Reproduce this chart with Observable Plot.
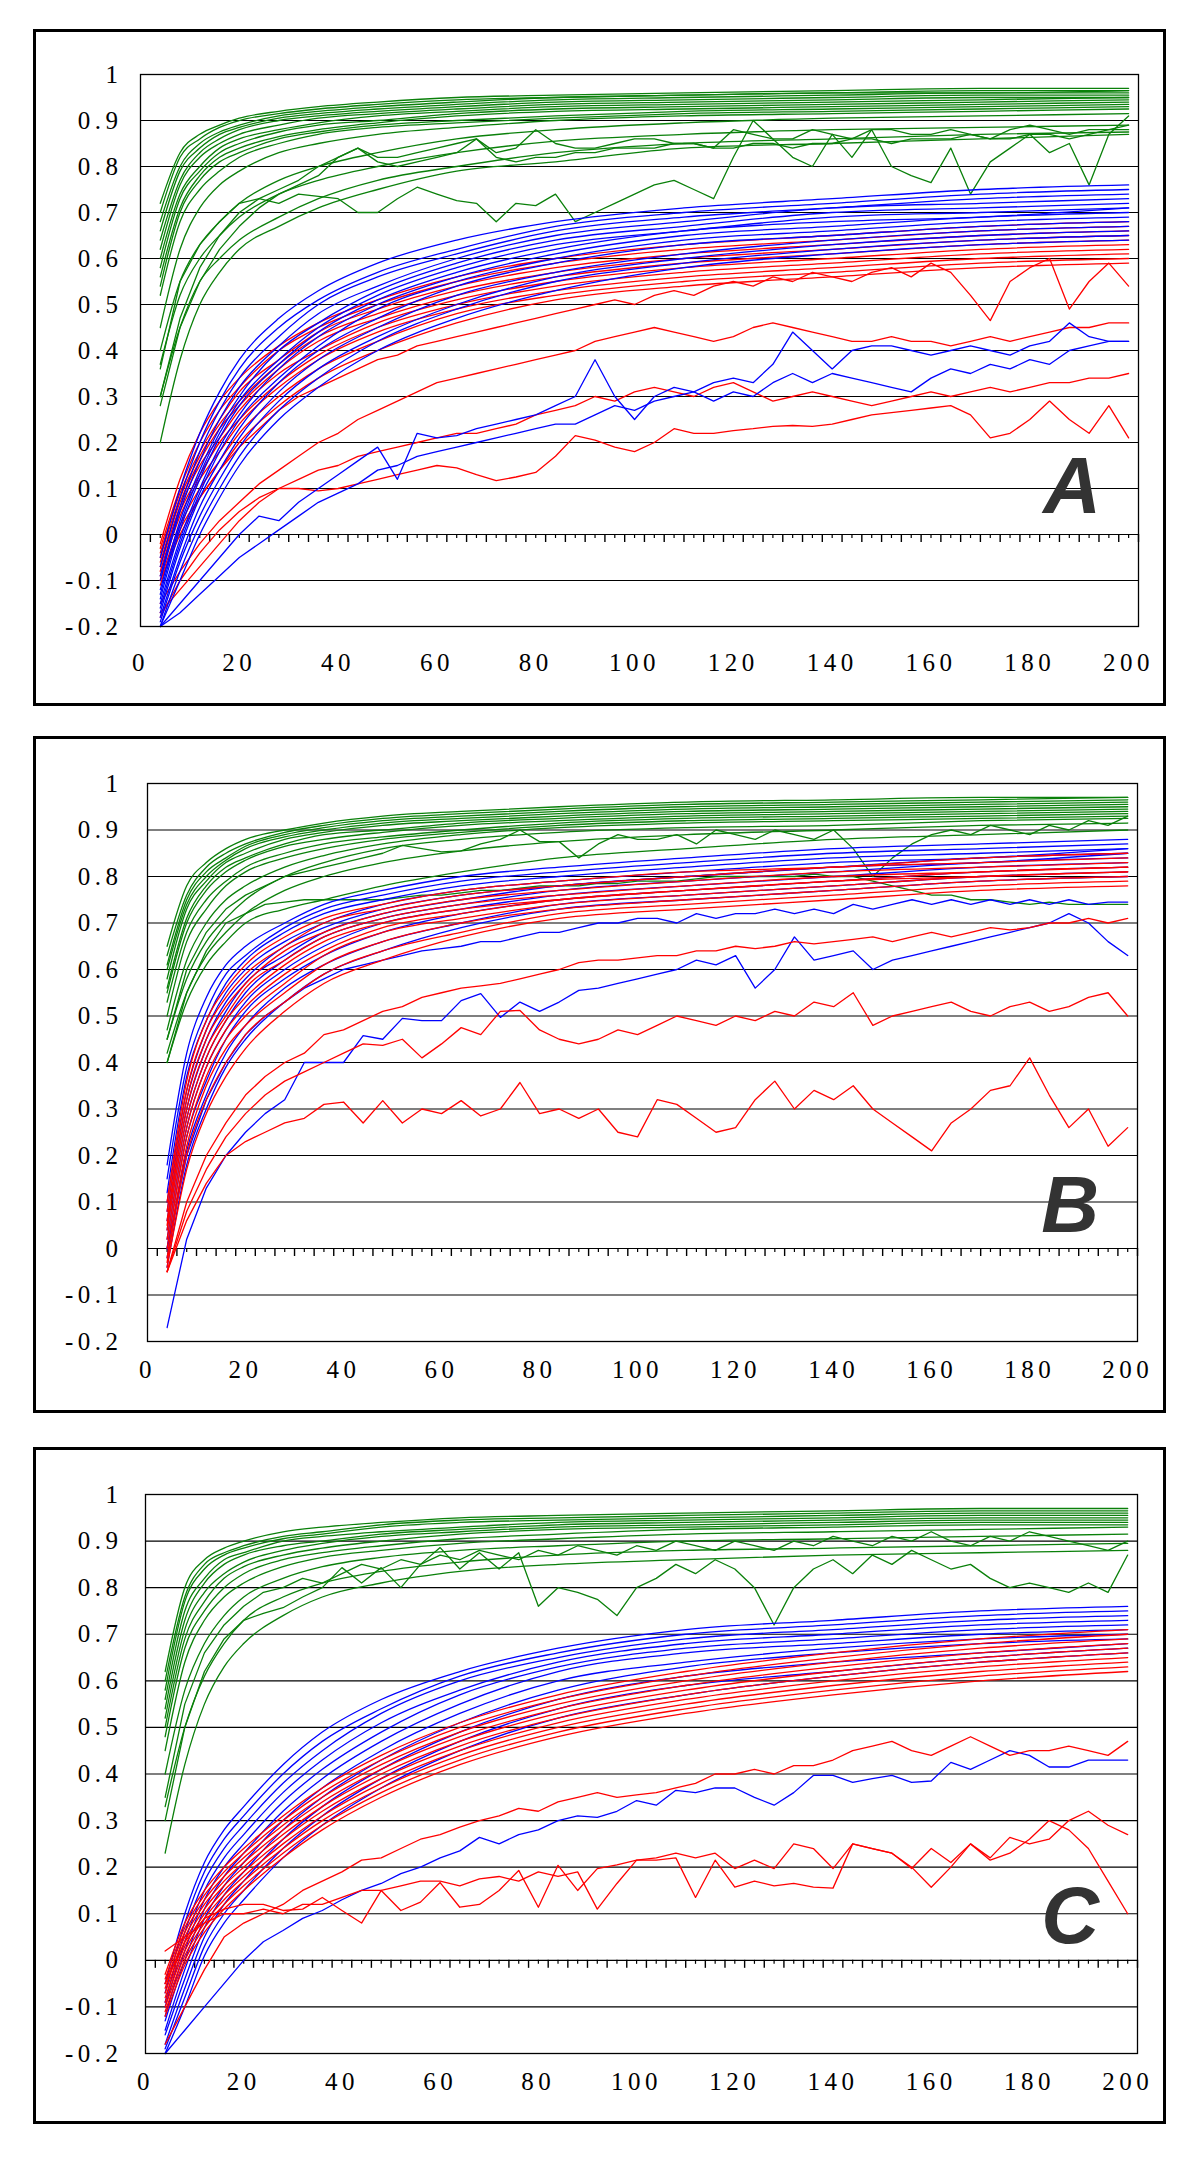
<!DOCTYPE html>
<html><head><meta charset="utf-8">
<script src="https://cdn.jsdelivr.net/npm/d3@7"></script>
<script src="https://cdn.jsdelivr.net/npm/@observablehq/plot@0.6"></script>
<style>
html,body{margin:0;padding:0;background:#fff;}
body{width:1200px;height:2175px;position:relative;}
.panel{position:absolute;left:33px;width:1133px;height:677px;border:3px solid #000;box-sizing:border-box;background:#fff;overflow:hidden;}
.panel svg{position:absolute;left:0;top:0;}
.panel svg text{letter-spacing:4.5px;}
</style></head><body>
<div id="pA" class="panel" style="top:29px"></div>
<div id="pB" class="panel" style="top:736px"></div>
<div id="pC" class="panel" style="top:1447px"></div>
<script>
// ---------- axes / ticks ----------
const yTicks = [-0.2,-0.1,0,0.1,0.2,0.3,0.4,0.5,0.6,0.7,0.8,0.9,1];
const xTicks = [0,20,40,60,80,100,120,140,160,180,200];
const axisMarksMajor = d3.range(2, 203, 4);
const axisMarksMinor = d3.range(4, 201, 4);
// x positions of the sampled points
const xBundle = [4,8,12,16,20,28,36,48,64,84,110,140,170,200];
const xFull = [4,8,12,16,20,24,28,32,36,40,44,48,52,56,60,64,68,72,76,80,84,88,92,96,100,104,108,112,116,120,124,128,132,136,140,144,148,152,156,160,164,168,172,176,180,184,188,192,196,200];

// ---------- PANEL A ----------
const aGreen = [
[.72,.83,.87,.89,.905,.92,.93,.94,.95,.955,.96,.965,.97,.97],
[.70,.82,.86,.885,.90,.915,.925,.935,.945,.95,.955,.96,.965,.965],
[.68,.80,.85,.875,.89,.91,.92,.93,.94,.95,.955,.96,.96,.965],
[.66,.79,.84,.87,.885,.905,.915,.925,.935,.945,.95,.955,.96,.96],
[.64,.77,.83,.86,.88,.90,.91,.92,.93,.94,.945,.95,.955,.955],
[.62,.76,.82,.85,.87,.89,.905,.915,.925,.935,.94,.945,.95,.95],
[.60,.74,.80,.84,.86,.88,.895,.91,.92,.93,.935,.94,.945,.95],
[.58,.73,.79,.83,.85,.875,.89,.90,.915,.925,.93,.935,.94,.945],
[.56,.71,.78,.82,.84,.865,.88,.895,.91,.92,.925,.93,.935,.94],
[.54,.70,.77,.81,.83,.86,.875,.89,.90,.91,.92,.925,.93,.935],
[.52,.68,.75,.79,.82,.85,.87,.885,.895,.905,.915,.92,.925,.93],
[.45,.62,.71,.76,.79,.83,.85,.87,.885,.90,.91,.915,.92,.925],
[.40,.55,.63,.68,.72,.77,.80,.83,.86,.88,.895,.905,.91,.915],
[.37,.52,.60,.65,.69,.74,.77,.80,.83,.855,.87,.88,.885,.89],
[.30,.45,.55,.60,.64,.69,.73,.77,.80,.83,.85,.86,.87,.875],
[.20,.38,.50,.57,.62,.67,.71,.75,.79,.81,.84,.85,.86,.87]
];
const aGreenNoisy = [
[.36,.55,.63,.68,.72,.73,.72,.74,.735,.73,
 .70,.70,.73,.755,.74,.726,.72,.68,.72,.715,
 .74,.68,.70,.72,.74,.76,.77,.75,.73,.82,
 .90,.86,.82,.80,.87,.82,.88,.80,.78,.765,
 .84,.74,.81,.84,.87,.83,.85,.76,.87,.91],
[.30,.47,.58,.65,.70,.73,.75,.77,.80,.82,
 .84,.82,.82,.83,.84,.85,.86,.83,.84,.88,
 .85,.84,.84,.85,.86,.86,.85,.85,.84,.88,
 .87,.86,.86,.88,.87,.86,.88,.88,.87,.87,
 .88,.87,.86,.88,.89,.88,.87,.88,.88,.89],
[.28,.45,.55,.62,.67,.71,.74,.76,.78,.82,
 .84,.81,.80,.81,.82,.83,.86,.82,.81,.82,
 .82,.83,.83,.84,.84,.84,.85,.85,.84,.84,
 .85,.85,.84,.85,.85,.86,.86,.85,.86,.86,
 .86,.87,.86,.86,.87,.87,.86,.87,.88,.88]
];
const aBlue = [
[-.05,.10,.22,.31,.38,.47,.53,.59,.64,.68,.71,.73,.75,.76],
[-.07,.08,.20,.29,.36,.45,.51,.57,.62,.67,.70,.72,.74,.75],
[-.09,.06,.18,.27,.34,.43,.50,.56,.61,.66,.69,.71,.73,.74],
[-.10,.05,.16,.25,.32,.41,.48,.54,.60,.65,.68,.71,.72,.73],
[-.12,.03,.14,.23,.30,.40,.46,.53,.59,.64,.67,.70,.71,.72],
[-.13,.02,.13,.22,.29,.38,.45,.52,.58,.63,.66,.69,.70,.71],
[-.14,.01,.12,.21,.28,.37,.44,.51,.57,.62,.66,.68,.69,.71],
[-.15,-.01,.10,.19,.26,.36,.43,.50,.56,.61,.65,.67,.69,.70],
[-.16,-.02,.09,.18,.25,.34,.41,.49,.55,.60,.64,.66,.68,.69],
[-.17,-.03,.08,.16,.23,.33,.40,.47,.54,.59,.63,.65,.67,.68],
[-.18,-.05,.06,.14,.21,.31,.38,.45,.52,.57,.61,.64,.66,.67],
[-.19,-.06,.04,.12,.19,.29,.36,.43,.50,.56,.60,.63,.65,.66],
[-.20,-.08,.02,.10,.17,.27,.34,.42,.49,.55,.59,.62,.64,.65],
[-.20,-.10,.00,.08,.15,.25,.32,.40,.47,.53,.58,.61,.63,.64]
];
const aBlueNoisy = [
[-.20,-.15,-.10,-.05,.00,.04,.03,.07,.10,.13,
 .16,.19,.12,.22,.21,.215,.23,.24,.25,.26,
 .28,.30,.38,.30,.25,.30,.32,.31,.33,.34,
 .33,.37,.44,.40,.36,.40,.41,.41,.40,.39,
 .40,.41,.40,.39,.41,.42,.46,.43,.42,.42],
[-.20,-.17,-.13,-.09,-.05,-.02,.01,.04,.07,.09,
 .11,.14,.15,.17,.18,.19,.20,.21,.22,.23,
 .24,.24,.26,.28,.27,.29,.30,.31,.29,.31,
 .30,.33,.35,.33,.35,.34,.33,.32,.31,.34,
 .36,.35,.37,.36,.38,.37,.40,.41,.42,.42]
];
const aRed = [
[-.02,.12,.22,.29,.34,.41,.46,.51,.56,.60,.63,.65,.67,.68],
[-.03,.10,.20,.27,.32,.40,.45,.50,.55,.59,.62,.64,.66,.67],
[-.04,.09,.18,.25,.31,.38,.44,.49,.54,.58,.61,.63,.65,.66],
[-.05,.08,.17,.24,.29,.37,.43,.48,.53,.57,.60,.62,.64,.65],
[-.06,.07,.16,.23,.28,.36,.42,.47,.52,.56,.59,.61,.63,.64],
[-.07,.06,.15,.21,.27,.35,.40,.46,.51,.55,.58,.60,.62,.63],
[-.08,.05,.13,.20,.25,.33,.39,.45,.50,.54,.57,.59,.61,.62],
[-.09,.04,.12,.18,.24,.32,.38,.44,.49,.53,.56,.58,.60,.61],
[-.10,.02,.10,.16,.22,.30,.36,.42,.48,.52,.55,.57,.59,.60],
[-.11,.01,.08,.14,.20,.28,.34,.40,.46,.51,.54,.56,.58,.59]
];
const aRedNoisy = [
[-.10,.00,.08,.14,.19,.23,.27,.30,.32,.34,
 .36,.38,.39,.41,.42,.43,.44,.45,.46,.47,
 .48,.49,.50,.51,.50,.52,.53,.52,.54,.55,
 .54,.56,.55,.57,.56,.55,.57,.58,.56,.59,
 .57,.52,.465,.55,.58,.60,.49,.55,.59,.54],
[-.15,-.08,-.02,.03,.07,.11,.14,.17,.20,.22,
 .25,.27,.29,.31,.33,.34,.35,.36,.37,.38,
 .39,.40,.42,.43,.44,.45,.44,.43,.42,.43,
 .45,.46,.45,.44,.43,.42,.42,.43,.42,.42,
 .41,.42,.43,.42,.43,.44,.45,.45,.46,.46],
[-.18,-.10,-.04,.01,.05,.08,.10,.12,.14,.15,
 .17,.18,.19,.20,.21,.22,.22,.23,.24,.26,
 .27,.28,.30,.29,.31,.32,.31,.30,.32,.33,
 .31,.29,.30,.31,.30,.29,.28,.29,.30,.31,
 .30,.31,.32,.31,.32,.33,.33,.34,.34,.35],
[-.17,-.12,-.07,-.02,.03,.07,.10,.10,.095,.10,
 .11,.12,.13,.14,.15,.145,.13,.117,.125,.135,
 .17,.215,.205,.19,.18,.20,.23,.22,.22,.226,
 .23,.235,.237,.235,.24,.25,.26,.265,.27,.275,
 .28,.26,.21,.22,.25,.29,.25,.22,.28,.21]
];

// ---------- PANEL B ----------
const bGreen = [
[.65,.78,.83,.86,.88,.90,.915,.93,.94,.95,.96,.965,.97,.97],
[.63,.76,.82,.85,.87,.895,.91,.925,.935,.945,.955,.96,.965,.97],
[.61,.75,.81,.84,.865,.89,.905,.92,.93,.94,.95,.955,.96,.965],
[.60,.74,.80,.835,.86,.885,.90,.915,.925,.935,.945,.95,.955,.96],
[.58,.73,.79,.83,.85,.88,.895,.91,.92,.93,.94,.945,.95,.955],
[.56,.71,.78,.82,.84,.87,.89,.90,.915,.925,.935,.94,.945,.95],
[.55,.70,.77,.81,.835,.865,.88,.895,.91,.92,.93,.935,.94,.945],
[.53,.68,.75,.79,.82,.85,.87,.885,.90,.915,.925,.93,.935,.94],
[.50,.66,.73,.78,.81,.84,.86,.88,.895,.91,.92,.925,.93,.935],
[.47,.62,.70,.75,.78,.82,.845,.87,.89,.905,.915,.92,.925,.93],
[.45,.58,.66,.71,.75,.80,.83,.86,.88,.895,.905,.91,.92,.925],
[.42,.55,.63,.68,.72,.77,.80,.83,.855,.875,.89,.90,.91,.915],
[.40,.53,.61,.66,.70,.73,.75,.78,.81,.84,.86,.88,.89,.90]
];
const bGreenNoisy = [
[.45,.60,.68,.73,.76,.78,.80,.81,.82,.83,
 .84,.85,.867,.86,.853,.855,.87,.88,.90,.875,
 .875,.84,.87,.89,.88,.88,.89,.87,.90,.89,
 .88,.90,.89,.88,.90,.86,.80,.84,.87,.89,
 .90,.89,.91,.90,.89,.91,.90,.92,.91,.93],
[.40,.55,.64,.70,.72,.74,.745,.75,.75,.75,
 .75,.75,.755,.76,.76,.765,.77,.77,.775,.78,
 .78,.78,.785,.785,.79,.79,.79,.795,.80,.80,
 .80,.80,.80,.805,.80,.80,.79,.78,.77,.76,
 .76,.75,.75,.745,.74,.745,.74,.74,.74,.74]
];
const bBlue = [
[.18,.42,.54,.61,.65,.70,.74,.77,.80,.82,.84,.86,.87,.88],
[.15,.39,.51,.59,.63,.69,.73,.76,.79,.81,.83,.85,.86,.87],
[.12,.37,.49,.57,.62,.68,.72,.75,.78,.80,.82,.84,.85,.86],
[.10,.34,.47,.55,.60,.66,.70,.74,.77,.79,.81,.83,.84,.86],
[.08,.32,.45,.53,.58,.65,.69,.73,.76,.78,.80,.82,.84,.85],
[.06,.30,.43,.51,.57,.63,.68,.72,.75,.78,.80,.82,.83,.85],
[.04,.28,.41,.49,.55,.62,.67,.71,.74,.77,.79,.81,.83,.84],
[.02,.26,.39,.47,.53,.60,.65,.70,.73,.76,.78,.80,.82,.83],
[.00,.24,.36,.45,.51,.58,.63,.68,.72,.75,.77,.79,.81,.82],
[-.02,.21,.33,.42,.48,.56,.61,.66,.70,.74,.76,.78,.80,.81],
[-.04,.18,.30,.39,.45,.53,.59,.64,.69,.73,.75,.77,.79,.80]
];
const bBlueNoisy = [
[-.17,.02,.13,.20,.25,.29,.32,.40,.40,.40,
 .458,.45,.495,.49,.49,.533,.548,.497,.53,.51,
 .53,.555,.56,.57,.58,.59,.60,.62,.61,.63,
 .56,.60,.67,.62,.63,.64,.60,.62,.63,.64,
 .65,.66,.67,.68,.69,.70,.72,.70,.66,.63],
[.00,.20,.32,.40,.46,.50,.53,.56,.58,.60,
 .61,.62,.63,.64,.645,.65,.66,.66,.67,.68,
 .68,.69,.70,.70,.71,.71,.70,.72,.71,.72,
 .72,.73,.72,.73,.72,.74,.73,.74,.75,.74,
 .75,.74,.75,.74,.75,.74,.75,.74,.745,.745]
];
const bRed = [
[.10,.36,.49,.56,.61,.67,.71,.74,.77,.79,.81,.82,.84,.85],
[.08,.34,.47,.54,.59,.65,.70,.73,.76,.78,.80,.82,.83,.84],
[.06,.32,.45,.52,.57,.64,.68,.72,.75,.77,.79,.81,.82,.83],
[.05,.30,.43,.50,.56,.62,.67,.71,.74,.76,.78,.80,.81,.82],
[.04,.28,.41,.49,.54,.61,.66,.70,.73,.75,.77,.79,.81,.82],
[.02,.26,.39,.47,.52,.59,.64,.69,.72,.75,.77,.79,.80,.81],
[.00,.24,.37,.45,.50,.57,.63,.68,.71,.74,.76,.78,.80,.81],
[-.02,.22,.35,.43,.48,.55,.61,.66,.70,.73,.75,.77,.79,.80],
[-.03,.20,.32,.40,.46,.53,.59,.64,.68,.72,.74,.76,.78,.79],
[-.04,.17,.29,.37,.43,.51,.57,.62,.67,.71,.73,.75,.77,.78]
];
const bRedNoisy = [
[-.05,.10,.20,.27,.33,.37,.40,.42,.46,.47,
 .49,.51,.52,.54,.55,.56,.565,.57,.58,.59,
 .60,.615,.62,.62,.625,.63,.63,.64,.64,.65,
 .645,.65,.66,.655,.66,.665,.67,.66,.67,.68,
 .67,.68,.69,.685,.69,.70,.70,.71,.70,.71],
[-.05,.08,.17,.24,.29,.33,.36,.38,.40,.42,
 .44,.437,.45,.41,.44,.475,.46,.51,.512,.47,
 .45,.44,.45,.47,.46,.48,.50,.49,.48,.50,
 .49,.51,.50,.53,.52,.55,.48,.50,.51,.52,
 .53,.51,.50,.52,.53,.51,.52,.54,.55,.50],
[-.05,.06,.14,.20,.23,.25,.27,.28,.31,.315,
 .27,.318,.27,.30,.29,.318,.285,.30,.357,.29,
 .30,.28,.30,.25,.24,.32,.31,.28,.25,.26,
 .32,.36,.30,.34,.32,.35,.30,.27,.24,.21,
 .27,.30,.34,.35,.41,.33,.26,.30,.22,.26]
];

// ---------- PANEL C ----------
const cGreen = [
[.62,.80,.86,.885,.90,.92,.93,.94,.95,.955,.96,.965,.97,.97],
[.60,.78,.85,.875,.89,.91,.92,.935,.945,.95,.955,.96,.965,.965],
[.58,.77,.84,.87,.885,.905,.915,.93,.94,.945,.95,.955,.96,.96],
[.56,.75,.82,.86,.875,.90,.91,.92,.93,.94,.945,.95,.955,.955],
[.54,.73,.81,.85,.87,.89,.90,.915,.925,.935,.94,.945,.95,.95],
[.52,.71,.79,.83,.855,.88,.895,.91,.92,.93,.935,.94,.945,.945],
[.50,.69,.77,.82,.845,.87,.885,.90,.915,.925,.93,.935,.94,.94],
[.48,.67,.75,.80,.83,.86,.875,.89,.905,.915,.925,.93,.935,.935],
[.45,.64,.73,.78,.81,.845,.865,.88,.895,.905,.915,.92,.925,.93],
[.40,.58,.68,.74,.78,.82,.845,.865,.88,.89,.90,.905,.91,.915],
[.33,.50,.61,.68,.73,.78,.81,.835,.855,.87,.88,.885,.89,.895],
[.23,.42,.55,.63,.68,.74,.78,.81,.835,.85,.86,.87,.875,.88]
];
const cGreenNoisy = [
[.30,.50,.62,.69,.73,.745,.757,.78,.80,.843,
 .81,.843,.80,.85,.886,.84,.875,.84,.875,.76,
 .80,.79,.775,.74,.80,.82,.85,.83,.86,.84,
 .80,.72,.80,.84,.86,.83,.87,.85,.88,.86,
 .84,.85,.82,.80,.81,.80,.79,.81,.79,.87],
[.35,.55,.66,.72,.76,.79,.80,.82,.81,.83,
 .85,.84,.86,.85,.87,.86,.88,.87,.86,.88,
 .87,.89,.88,.87,.89,.88,.90,.89,.88,.90,
 .89,.88,.90,.89,.91,.90,.89,.91,.90,.92,
 .90,.89,.91,.90,.92,.91,.90,.89,.88,.90]
];
const cBlue = [
[-.05,.10,.21,.28,.33,.42,.49,.56,.62,.67,.71,.73,.75,.76],
[-.07,.08,.19,.26,.31,.40,.47,.54,.61,.66,.70,.72,.74,.75],
[-.09,.06,.17,.24,.29,.38,.45,.53,.60,.65,.69,.71,.73,.74],
[-.10,.04,.15,.22,.27,.36,.43,.51,.58,.64,.68,.70,.72,.73],
[-.12,.02,.13,.20,.25,.34,.41,.49,.57,.63,.67,.69,.71,.72],
[-.13,.00,.11,.18,.23,.32,.39,.47,.55,.62,.66,.68,.70,.71],
[-.15,-.02,.09,.16,.21,.30,.37,.45,.53,.60,.64,.67,.69,.70],
[-.16,-.04,.07,.14,.19,.28,.35,.43,.51,.58,.63,.66,.68,.69],
[-.18,-.06,.05,.12,.17,.26,.33,.41,.49,.56,.61,.64,.66,.68],
[-.19,-.08,.03,.10,.15,.24,.31,.39,.47,.54,.59,.62,.65,.67],
[-.20,-.10,.01,.08,.13,.22,.29,.37,.45,.52,.57,.61,.64,.66]
];
const cBlueNoisy = [
[-.20,-.15,-.10,-.05,.00,.04,.064,.09,.107,.13,
 .15,.165,.186,.20,.22,.235,.264,.25,.27,.28,
 .30,.31,.307,.32,.343,.333,.365,.36,.37,.37,
 .35,.333,.36,.397,.397,.382,.39,.397,.382,.385,
 .425,.41,.43,.45,.44,.415,.415,.43,.43,.43]
];
const cRed = [
[-.03,.08,.15,.20,.24,.31,.37,.44,.51,.57,.62,.66,.69,.71],
[-.04,.07,.14,.19,.23,.30,.36,.43,.50,.56,.61,.65,.68,.70],
[-.05,.06,.13,.18,.22,.29,.35,.42,.49,.55,.60,.64,.67,.69],
[-.06,.05,.12,.17,.21,.28,.34,.41,.48,.54,.59,.63,.66,.68],
[-.07,.04,.11,.16,.20,.27,.33,.40,.47,.53,.58,.62,.65,.67],
[-.08,.03,.10,.15,.19,.26,.32,.39,.46,.52,.57,.61,.64,.66],
[-.09,.02,.09,.14,.18,.25,.31,.38,.45,.51,.56,.60,.63,.65],
[-.10,.01,.08,.13,.17,.24,.30,.37,.44,.50,.55,.59,.62,.64],
[-.11,.00,.07,.12,.16,.23,.29,.36,.43,.49,.54,.58,.61,.63],
[-.12,-.01,.06,.11,.15,.22,.28,.35,.42,.48,.53,.57,.60,.62]
];
const cRedNoisy = [
[-.18,-.10,-.02,.05,.08,.10,.12,.15,.17,.19,
 .215,.22,.24,.26,.27,.286,.30,.31,.326,.32,
 .34,.35,.36,.35,.355,.36,.37,.38,.40,.40,
 .41,.40,.418,.418,.43,.45,.46,.47,.45,.44,
 .46,.48,.46,.44,.45,.45,.46,.45,.44,.47],
[-.05,.04,.09,.11,.12,.12,.107,.11,.135,.107,
 .08,.15,.107,.125,.167,.114,.12,.15,.193,.114,
 .204,.15,.197,.205,.215,.22,.23,.22,.23,.197,
 .215,.197,.25,.24,.197,.25,.24,.23,.197,.24,
 .21,.25,.22,.264,.25,.26,.30,.32,.29,.27],
[.02,.05,.08,.10,.10,.11,.10,.12,.12,.135,
 .15,.15,.16,.17,.17,.16,.175,.18,.17,.19,
 .18,.19,.11,.165,.215,.215,.22,.135,.215,.157,
 .17,.16,.165,.157,.155,.25,.24,.23,.20,.157,
 .20,.25,.215,.23,.26,.30,.28,.24,.17,.10]
];

const GREEN = "#0a800a", BLUE = "#0000ff", RED = "#ff0000";

function fmtY(d) { return d === 0 ? "0" : d === 1 ? "1" : (d < 0 ? "-" : "") + Math.abs(d).toFixed(1); }

function lineMark(lines, xs, color, curve) {
  const rows = [];
  lines.forEach((vals, i) => vals.forEach((v, j) => rows.push({x: xs[j], y: v, id: i})));
  return Plot.line(rows, {x: "x", y: "y", z: "id", stroke: color, strokeWidth: 1.3, curve});
}

function panel(el, o) {
  const marks = [
    Plot.gridY(yTicks, {stroke: "#000", strokeOpacity: 1, strokeWidth: 1.2}),
    Plot.ruleX(axisMarksMajor, {x: d => d, y1: 0, y2: 0, insetBottom: -8, stroke: "#000", strokeWidth: 1.4}),
    Plot.ruleX(axisMarksMinor, {x: d => d, y1: 0, y2: 0, insetBottom: -4, stroke: "#000", strokeWidth: 1.2})
  ];
  for (const L of o.layers) marks.push(lineMark(L[0], L[1], L[2], L[1] === xBundle ? "monotone-x" : "linear"));
  marks.push(
    Plot.frame({stroke: "#000", strokeWidth: 1.3}),
    Plot.axisY(yTicks, {tickSize: 0, tickPadding: o.padY, tickFormat: fmtY, label: null}),
    Plot.axisX(xTicks, {tickSize: 0, tickPadding: o.padX, tickFormat: d => String(d), label: null}),
    Plot.text([o.letter], {frameAnchor: "bottom-right", dx: o.ldx, dy: o.ldy, lineAnchor: "bottom", textAnchor: "end",
      fontSize: 80, fontWeight: "bold", fontStyle: "italic", fontFamily: "Liberation Sans, Arial, sans-serif", fill: "#333"})
  );
  const svg = Plot.plot({
    width: 1127, height: 671,
    marginLeft: o.ml, marginRight: o.mr, marginTop: o.mt, marginBottom: o.mb,
    style: {fontFamily: '"Liberation Serif", "DejaVu Serif", serif', fontSize: "25px", color: "#000", background: "transparent"},
    x: {domain: [0, 202], label: null},
    y: {domain: [-0.2, 1], label: null},
    marks
  });
  document.getElementById(el).appendChild(svg);
}

panel("pA", {ml: 104, mr: 25, mt: 42, mb: 77, padY: 18, padX: 27, letter: "A", ldx: -33, ldy: -114,
  layers: [[aGreen, xBundle, GREEN], [aGreenNoisy, xFull, GREEN], [aRed, xBundle, RED], [aRedNoisy, xFull, RED], [aBlue, xBundle, BLUE], [aBlueNoisy, xFull, BLUE]]});
panel("pB", {ml: 111, mr: 26, mt: 44, mb: 69, padY: 25, padX: 19, letter: "B", ldx: -34, ldy: -110,
  layers: [[bGreen, xBundle, GREEN], [bGreenNoisy, xFull, GREEN], [bBlue, xBundle, BLUE], [bBlueNoisy, xFull, BLUE], [bRed, xBundle, RED], [bRedNoisy, xFull, RED]]});
panel("pC", {ml: 109, mr: 26, mt: 44, mb: 68, padY: 23, padX: 19, letter: "C", ldx: -34, ldy: -111,
  layers: [[cGreen, xBundle, GREEN], [cGreenNoisy, xFull, GREEN], [cBlue, xBundle, BLUE], [cBlueNoisy, xFull, BLUE], [cRed, xBundle, RED], [cRedNoisy, xFull, RED]]});
</script>
</body></html>
